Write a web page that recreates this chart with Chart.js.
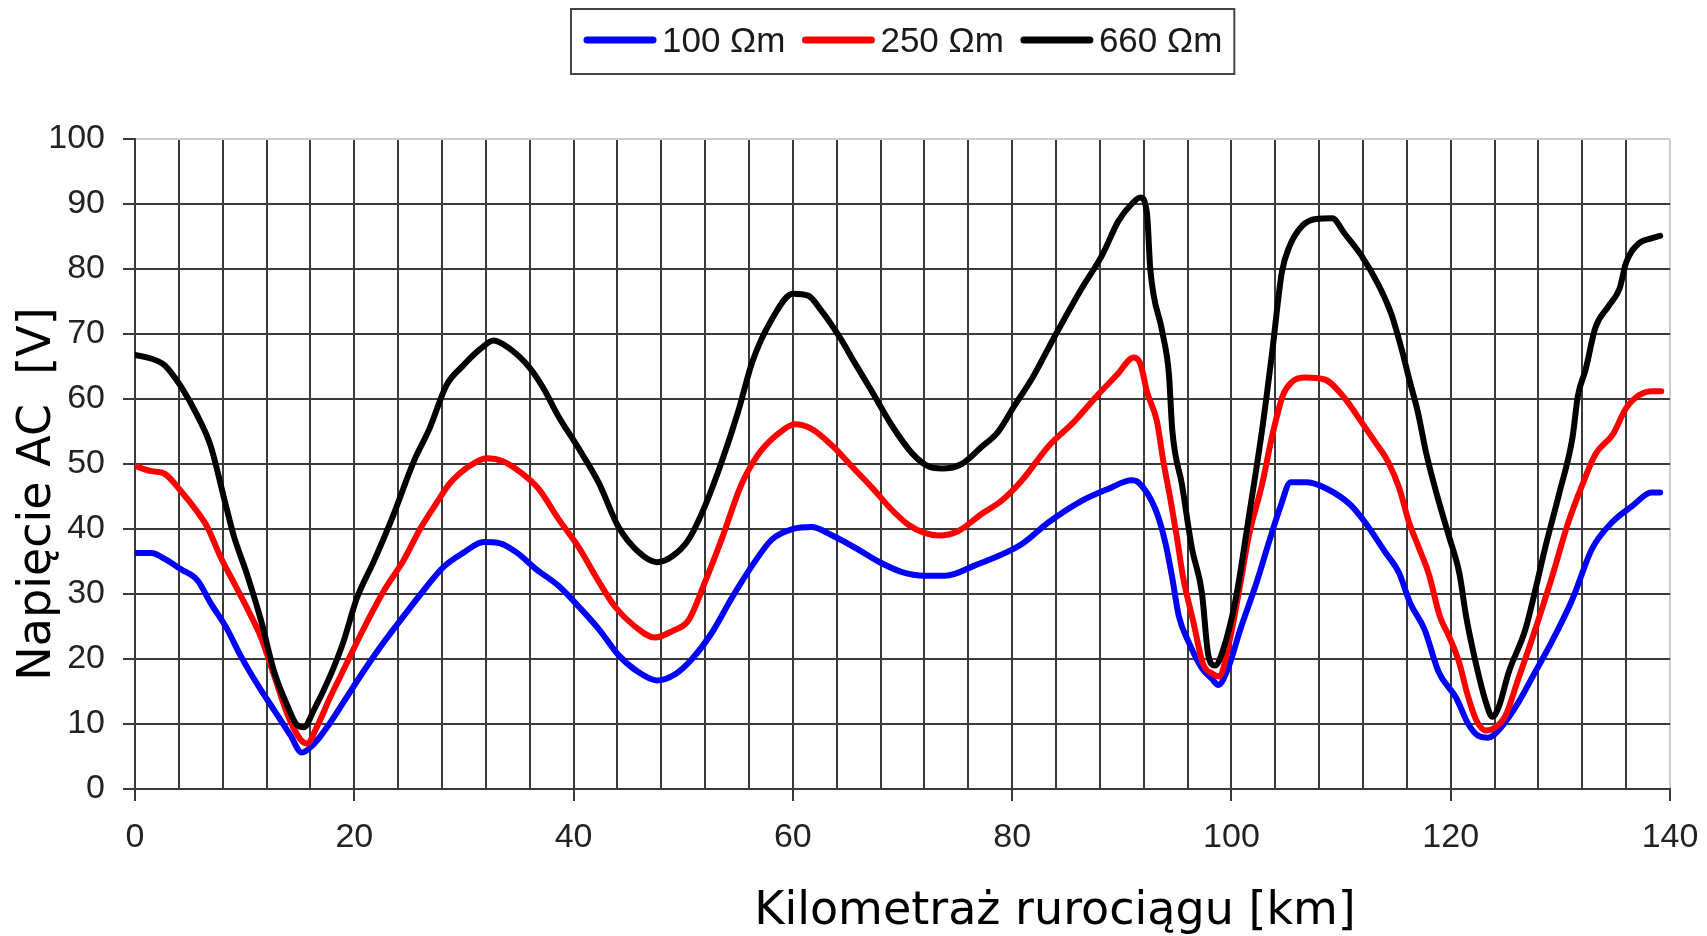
<!DOCTYPE html>
<html>
<head>
<meta charset="utf-8">
<script src="https://cdn.jsdelivr.net/npm/chart.js@4.4.1/dist/chart.umd.min.js"></script>
<style>
  html, body { margin: 0; padding: 0; background: #fff; }
</style>
</head>
<body>
<canvas id="voltageChart" width="1707" height="936"></canvas>
<script>
// Series names (soil resistivity)
const seriesNames = ["100 Ωm", "250 Ωm", "660 Ωm"];
const seriesColors = ["#0000ff", "#ff0000", "#000000"];

// 100 Ωm - pipeline kilometre and AC voltage
const km100 = [0, 1.5, 2.7, 4.2, 5.7, 6.9, 8.4, 9.6, 11.2, 12.7, 14.2, 15.2, 16.3, 17.8, 19.3, 20.8, 22.7, 24.5,
  26.3, 28.1, 30, 31.8, 33.3, 34.8, 36.6, 38.6, 40.5, 42.3, 44.1, 45.9, 47.6, 49.3, 50.8, 52.6, 54.4, 56.3,
  58.1, 60, 61.7, 63.6, 65.7, 67.8, 69.9, 72, 73.9, 76.6, 80.9, 83.3, 86.3, 88.8, 90.9, 91.5, 93.1, 94, 94.6,
  95.2, 96.1, 97.3, 98.2, 98.8, 99.7, 100.8, 102.3, 103.5, 104.5, 105.4, 106.9, 108.7, 110.8, 112.2, 114,
  115.3, 116.3, 117.6, 118.9, 120.5, 121.6, 122.5, 123.4, 124.6, 126.2, 127.7, 129.2, 131.1, 132.9, 134.7,
  136.6, 138.3, 139.1];
const u100 = [36.3, 36.3, 35.4, 33.8, 32.1, 28.6, 24.6, 20.6, 16, 12.1, 8.2, 5.6, 6.9, 10.2, 14.1, 18, 22.6, 26.6,
  30.5, 34.1, 36.4, 38, 37.8, 36.4, 33.8, 31.3, 28, 24.6, 20.6, 18, 16.7, 17.7, 20, 24, 29.3, 34.4,
  38.4, 40, 40.3, 39, 37.1, 35, 33.4, 32.8, 32.8, 34.4, 37.7, 41, 44.3, 46.2, 47.5, 47.2, 42.9, 37.7, 32.5,
  26.6, 22.6, 18.6, 17, 16, 18.6, 24.5, 31.8, 38.4, 43.6, 47.2, 47.2, 46.2, 43.8, 41, 36.5,
  33.2, 28.6, 24.6, 18, 14, 10, 8.2, 7.9, 9.5, 13.4, 18, 22.6, 29.2, 37, 41,
  43.6, 45.6, 45.6];

// 250 Ωm
const km250 = [0, 1.5, 2.7, 4.2, 5.7, 6.6, 7.8, 9, 10.2, 11.5, 12.7, 13.9, 15.1, 15.7, 16.6, 17.8, 19.3, 20.8,
  22.7, 24.5, 26, 27.5, 28.7, 30.5, 32.1, 33.6, 35.1, 36.8, 38.6, 40.5, 42.3, 43.8, 45.6, 47.4, 49, 50.5,
  52, 53.5, 55.3, 56.9, 58.7, 60.2, 61.7, 63.6, 65.4, 67.2, 69, 70.5, 72, 73.3, 75.1, 77.2, 79, 80.9, 83.3,
  85.7, 87.8, 89.6, 91.1, 91.7, 92.3, 93.2, 93.8, 94.4, 95, 95.6, 96.5, 97.4, 98.3, 98.9, 99.8, 100.7,
  101.6, 102.8, 103.7, 104.7, 105.5, 106.7, 108.5, 110.3, 111.8, 113.1, 114.3, 115.3, 116.2, 117.1, 118,
  119, 119.9, 120.8, 121.5, 122.3, 123.2, 124, 125, 126.1, 127.7, 129.2, 130.7, 132, 133.2, 134.8, 136,
  137.2, 138.4, 139.2];
const u250 = [49.7, 48.9, 48.5, 45.8, 42.6, 40.3, 35.7, 31.8, 27.9, 23.3, 17.4, 11.5, 7.6, 7, 9.6, 14.1, 19.3, 24.5,
  30.5, 35.2, 40, 44, 47, 49.7, 50.9, 50.4, 48.8, 46.2, 41.6, 37.1, 31.9, 28, 25, 23.3, 24.3, 26,
  31.9, 38.4, 46.8, 51.6, 54.7, 56.1, 55.4, 52.8, 49.6, 46.4, 43, 40.7, 39.4, 39, 39.7, 42.3, 44.3, 47.5, 52.7,
  56.6, 60.6, 63.8, 66.4, 65.4, 61.1, 56.6, 50.3, 44.9, 39, 32.5, 25.9, 19.3, 17.7, 17.3, 22.6, 30.5,
  39, 46.9, 54.2, 60.6, 62.6, 63.3, 63, 60.2, 56.6, 53.4, 50.3, 46.3, 41, 37.1, 33.1,
  26.6, 23.3, 19.3, 14.7, 10.7, 9, 9.4, 11.3, 16.6, 24.5, 32.4, 40.9, 46.8, 51.5, 54.6, 58.6,
  60.6, 61.2, 61.2];

// 660 Ωm
const km660 = [0, 1.5, 2.7, 4.2, 5.7, 6.9, 8.1, 9, 10.2, 11.5, 12.7, 13.9, 14.8, 15.4, 16.3, 17.8, 19, 20.2,
  21.8, 23.6, 25.4, 26.9, 28.4, 29.9, 31.5, 32.7, 34.2, 36, 37.2, 38.6, 40.5, 42.3, 44.1, 45.9, 47.6, 49,
  50.5, 52, 53.5, 55, 56.3, 58.1, 60, 61.4, 62.6, 64.2, 65.7, 67.2, 69, 70.9, 72.4, 73.6, 75.4, 77.2, 78.7,
  80.3, 81.8, 83.9, 86.3, 88.2, 89.7, 90.9, 91.7, 92.3, 92.6, 93.7, 94.3, 94.6, 95.5, 96.4, 97.3, 97.9,
  98.5, 99.2, 100.4, 101.6, 102.8, 103.7, 104.6, 105.3, 106.5, 107.7, 109.2, 110.3, 111.8, 113.4, 114.6,
  115.5, 116.3, 117, 117.8, 118.8, 119.8, 120.8, 121.4, 122.3, 123.2, 123.8, 124.4, 125.3, 126.8, 127.7,
  128.6, 129.9, 131.1, 131.6, 132.3, 133.2, 134.4, 135.4, 136, 137.2, 138.3, 139.1];
const u660 = [66.8, 66.2, 65.2, 61.9, 57.4, 52.8, 44.9, 39, 33.1, 25.9, 18, 12.8, 9.8, 9.5, 12.1, 17.4, 22.6, 29.2,
  35.1, 42.3, 50.3, 55.6, 62.1, 65.1, 67.7, 69, 67.7, 64.8, 61.8, 57.4, 52.3, 47.1, 40.3, 36.5, 34.9, 35.8,
  38.4, 43.6, 50.3, 58, 65.7, 72.3, 76.2, 75.9, 73.6, 69.7, 65.4, 61.2, 56, 51.6, 49.6, 49.3, 50, 52.6, 54.9,
  59.2, 63.1, 69.7, 76.9, 82.1, 87.4, 90, 91, 88.5, 80, 70.3, 63.8, 55.3, 46.7, 37, 30.3, 20.5,
  19, 21.2, 29.3, 42, 55.3, 67, 79.5, 83.5, 86.7, 87.7, 87.8, 85.5, 82.2, 77.6, 73,
  67.8, 62.5, 58, 51.4, 44.9, 39.1, 33.1, 26.6, 19.3, 13.4, 11.1, 12.7, 18, 24.5, 30.5,
  37, 45.5, 54, 60.5, 64.5, 71, 74.3, 77, 81, 84, 84.7, 85.1];

// Axis ticks
const xTicks = [0, 20, 40, 60, 80, 100, 120, 140];
const yTicks = [0, 10, 20, 30, 40, 50, 60, 70, 80, 90, 100];
const xTitle = "Kilometraż rurociągu [km]";
const yTitle = "Napięcie AC  [V]";

const tickFont = { family: "'Liberation Sans', Arial, sans-serif", size: 34 };
const gridColor = "#3a3a3a";

function toPoints(xs, ys) {
  return xs.map((x, i) => ({ x: x, y: ys[i] }));
}

const kmLists = [km100, km250, km660];
const uLists = [u100, u250, u660];

// Legend box and axis titles drawn straight on the canvas
const decorPlugin = {
  id: "decor",
  afterDraw(chart) {
    const ctx = chart.ctx;
    const area = chart.chartArea;
    ctx.save();

    // legend
    ctx.font = "35px 'Liberation Sans', Arial, sans-serif";
    const lineLen = 74, gapText = 5, gapItem = 16, padX = 12;
    let total = 0;
    seriesNames.forEach((name, i) => {
      total += lineLen + gapText + ctx.measureText(name).width;
      if (i < seriesNames.length - 1) total += gapItem;
    });
    const boxW = total + 2 * padX;
    const boxX = Math.round((area.left + area.right) / 2 - boxW / 2);
    const boxY = 9;
    ctx.strokeStyle = "#444";
    ctx.lineWidth = 2;
    ctx.strokeRect(boxX, boxY, boxW, 65);
    let x = boxX + padX;
    seriesNames.forEach((name, i) => {
      ctx.beginPath();
      ctx.strokeStyle = seriesColors[i];
      ctx.lineWidth = 7;
      ctx.lineCap = "round";
      ctx.moveTo(x + 4, 40);
      ctx.lineTo(x + lineLen - 4, 40);
      ctx.stroke();
      x += lineLen + gapText;
      ctx.fillStyle = "#1a1a1a";
      ctx.textBaseline = "alphabetic";
      ctx.textAlign = "left";
      ctx.fillText(name, x, 52);
      x += ctx.measureText(name).width + gapItem;
    });

    // axis titles
    ctx.fillStyle = "#000";
    ctx.font = "46px 'DejaVu Sans', sans-serif";
    ctx.textAlign = "center";
    ctx.textBaseline = "alphabetic";
    ctx.fillText(xTitle, 1055, 924);

    ctx.translate(50, 494);
    ctx.rotate(-Math.PI / 2);
    ctx.fillText(yTitle, 0, 0);
    ctx.restore();
  },
};

const ctx = document.getElementById("voltageChart").getContext("2d");
new Chart(ctx, {
  type: "line",
  data: {
    datasets: seriesNames.map((name, i) => ({
      label: name,
      data: toPoints(kmLists[i], uLists[i]),
      borderColor: seriesColors[i],
      backgroundColor: seriesColors[i],
      borderWidth: 6,
      borderCapStyle: "round",
      borderJoinStyle: "round",
      pointRadius: 0,
      cubicInterpolationMode: "monotone",
      fill: false,
      order: seriesNames.length - i, // later series drawn on top
    })),
  },
  options: {
    responsive: false,
    animation: false,
    layout: { padding: { top: 139, right: 37, left: 0, bottom: 0 } },
    plugins: {
      legend: { display: false },
      tooltip: { enabled: false },
    },
    scales: {
      x: {
        type: "linear",
        min: 0,
        max: 140,
        afterFit: (scale) => {
          scale.height = 147;
          scale.paddingLeft = 0;
          scale.paddingRight = 0;
        },
        ticks: {
          stepSize: 4,
          autoSkip: false,
          maxRotation: 0,
          padding: 16,
          color: "#222",
          font: tickFont,
          callback: (v) => (xTicks.includes(v) ? String(v) : ""),
        },
        grid: {
          color: (c) => (c.tick && c.tick.value === 140 ? "#cccccc" : gridColor),
          lineWidth: 2,
          tickLength: 12,
          tickColor: (c) => (c.tick && xTicks.includes(c.tick.value) ? gridColor : "rgba(0,0,0,0)"),
        },
        border: { color: gridColor, width: 2 },
      },
      y: {
        min: 0,
        max: 100,
        afterFit: (scale) => { scale.width = 135; },
        afterBuildTicks: (scale) => { scale.ticks = yTicks.map((v) => ({ value: v })); },
        ticks: {
          padding: 18,
          color: "#222",
          font: tickFont,
        },
        grid: {
          color: (c) => (c.tick && c.tick.value === 100 ? "#cccccc" : gridColor),
          lineWidth: 2,
          tickLength: 12,
          tickColor: gridColor,
        },
        border: { color: gridColor, width: 2 },
      },
    },
  },
  plugins: [decorPlugin],
});
</script>
</body>
</html>
